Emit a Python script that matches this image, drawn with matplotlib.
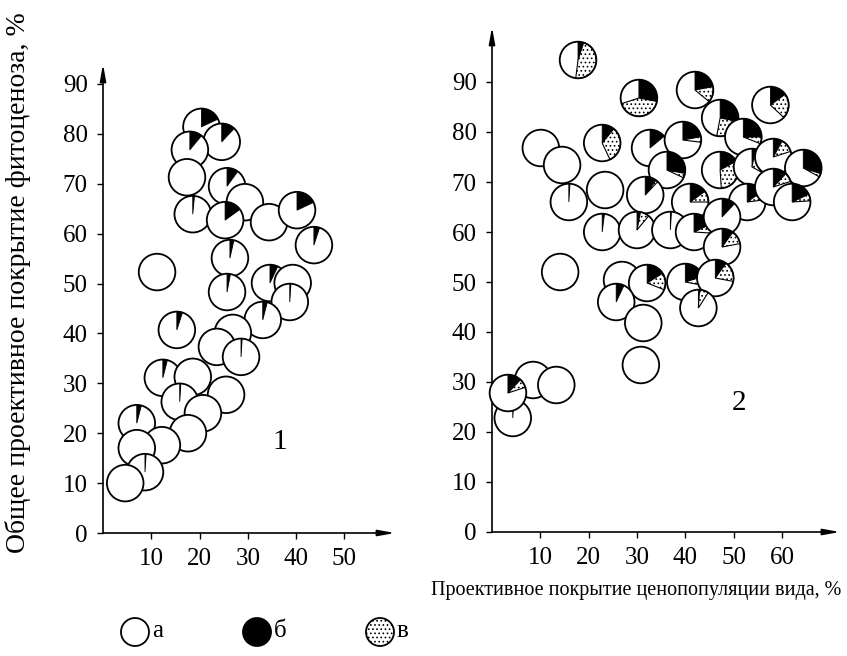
import numpy as np
import matplotlib
matplotlib.use("Agg")
import matplotlib.pyplot as plt
from matplotlib.patches import Circle, Wedge
from matplotlib.transforms import ScaledTranslation

plt.rcParams['font.family'] = ['Liberation Serif', 'DejaVu Serif']
plt.rcParams['hatch.linewidth'] = 0.7

# Панель 1: координаты кружков и доли секторов (% круга)
x1 = [20.4, 24.6, 18.0, 17.4, 25.7, 29.4, 18.6, 25.3, 34.4, 40.2, 43.7,
      11.2, 26.3, 25.7, 34.6, 39.3, 38.7, 33.1,
      15.3, 26.9, 23.6, 28.6, 12.4, 18.6, 15.9, 25.5, 20.7, 7.0, 17.6,
      12.2, 7.0, 8.7, 4.6]
y1 = [81.4, 78.4, 76.8, 71.3, 69.5, 66.3, 63.9, 62.7, 62.3, 64.7, 57.7,
      52.3, 55.1, 48.3, 50.1, 50.1, 46.3, 42.7,
      40.7, 40.1, 37.3, 35.3, 31.1, 31.3, 26.3, 27.7, 24.0, 22.0, 20.0,
      17.6, 17.0, 12.2, 10.0]
black1 = [18, 12, 11, 0, 10, 0, 1.5, 15, 0, 18, 5,
          0, 3.5, 3, 7, 0, 1, 4,
          5, 0, 0, 1, 4, 0, 1, 0, 0, 4, 0,
          0, 0, 1, 0]
dots1 = [0] * len(x1)

# Панель 2
x2 = [17.8, 30.4, 42.0, 57.6, 47.2, 10.1, 22.8, 32.7, 39.5, 52.0,
      14.5, 36.2, 47.2, 53.8, 58.2, 64.4, 15.9, 23.4, 31.7, 41.0,
      52.8, 58.2, 62.1, 22.8, 30.0, 36.9, 41.8, 47.6, 47.6, 14.1,
      26.9, 32.1, 25.7, 40.0, 46.2, 42.7, 31.3, 30.8, 8.5, 13.3,
      4.3, 3.3]
y2 = [94.4, 86.8, 88.4, 85.4, 82.8, 76.8, 77.8, 76.8, 78.4, 79.0,
      73.4, 72.4, 72.4, 73.0, 75.0, 72.8, 66.0, 68.4, 67.4, 66.0,
      66.0, 69.0, 66.0, 60.0, 60.4, 60.4, 60.0, 63.0, 57.0, 52.0,
      50.4, 49.8, 46.0, 50.0, 50.8, 44.8, 41.8, 33.4, 30.4, 29.4,
      22.8, 27.8]
black2 = [5, 28, 22, 15, 28, 0, 11, 14, 22, 25,
          0, 28, 17, 3, 8, 30, 1, 0, 10, 15,
          15, 12, 18, 2, 3, 1, 18, 12, 10, 0,
          0, 16, 7, 20, 10, 1, 0, 0, 0, 0,
          1, 12]
dots2 = [47, 42, 14, 22, 25, 0, 32, 0, 5, 6,
         0, 4, 32, 30, 12, 3, 0, 0, 2, 10,
         8, 8, 6, 0, 8, 0, 8, 0, 12, 0,
         0, 15, 0, 8, 18, 8, 0, 0, 0, 0,
         0, 8]

legend_labels = ['а', 'б', 'в']

R = 0.183  # радиус кружка в дюймах

fig = plt.figure(figsize=(8.47, 6.56), dpi=100)
ax1 = fig.add_axes([103 / 847, 123 / 656, 292 / 847, 469 / 656])
ax2 = fig.add_axes([492 / 847, 124 / 656, 348 / 847, 505 / 656])


def pie(ax, x, y, black, dots, z):
    tr = fig.dpi_scale_trans + ScaledTranslation(x, y, ax.transData)
    ax.add_patch(Circle((0, 0), R, transform=tr, fc='white', ec='none',
                        zorder=z, clip_on=False))
    a = 90.0
    if black > 0:
        ax.add_patch(Wedge((0, 0), R, a - black * 3.6, a, transform=tr,
                           fc='black', ec='black', lw=0.6,
                           zorder=z + 0.001, clip_on=False))
    a -= black * 3.6
    if dots > 0:
        ax.add_patch(Wedge((0, 0), R, a - dots * 3.6, a, transform=tr,
                           fc='white', ec='black', hatch='....', lw=0.8,
                           zorder=z + 0.001, clip_on=False))
    ax.add_patch(Circle((0, 0), R, transform=tr, fc='none', ec='black',
                        lw=1.3, zorder=z + 0.002, clip_on=False))


def setup(ax, xmax, ymax, xticks):
    ax.set_xlim(0, xmax)
    ax.set_ylim(0, ymax)
    ax.patch.set_alpha(0)
    for s in ax.spines.values():
        s.set_visible(False)
    arr = dict(arrowstyle='-|>,head_length=1.0,head_width=0.18', color='k',
               lw=1.2, shrinkA=0, shrinkB=0)
    ax.annotate('', xy=(1, 0), xytext=(0, 0), xycoords='axes fraction',
                arrowprops=arr)
    ax.annotate('', xy=(0, 1), xytext=(0, 0), xycoords='axes fraction',
                arrowprops=arr)
    ax.set_xticks(xticks)
    ax.set_yticks(np.arange(0, 100, 10))
    ax.tick_params(direction='out', length=4, width=1, labelsize=18, pad=7)


setup(ax1, 60.5, 94, np.arange(10, 60, 10))
setup(ax2, 72, 101, np.arange(10, 70, 10))

for i in range(len(x1)):
    pie(ax1, x1[i], y1[i], black1[i], dots1[i], 3 + i * 0.01)
for i in range(len(x2)):
    pie(ax2, x2[i], y2[i], black2[i], dots2[i], 3 + i * 0.01)

ax1.text(36.6, 18.2, '1', fontsize=21, ha='center', va='center')
ax2.text(51.1, 25.9, '2', fontsize=21, ha='center', va='center')

fig.text(18 / 847, 1 - 283 / 656, 'Общее проективное покрытие фитоценоза, %',
         rotation=90, ha='center', va='center', fontsize=20)
fig.text(636 / 847, 1 - 590 / 656, 'Проективное покрытие ценопопуляции вида, %',
         ha='center', va='center', fontsize=14.5)

# Легенда
leg_x = [1.35, 2.57, 3.80]
leg_style = [dict(fc='white'), dict(fc='black'), dict(fc='white', hatch='....')]
for lx, st, lab in zip(leg_x, leg_style, legend_labels):
    fig.add_artist(Circle((lx, 0.24), 0.14, transform=fig.dpi_scale_trans,
                          ec='black', lw=1.3, **st))
    fig.text(lx + 0.17, 0.25, lab, transform=fig.dpi_scale_trans,
             ha='left', va='center', fontsize=18)

fig.savefig('out.png', dpi=100)
